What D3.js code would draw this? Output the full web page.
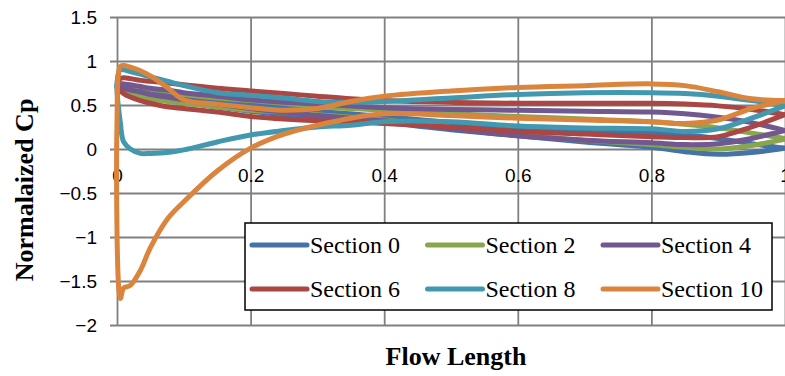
<!DOCTYPE html>
<html>
<head>
<meta charset="utf-8">
<script src="https://cdn.jsdelivr.net/npm/d3@7"></script>
<style>
  body { margin: 0; background: #fff; }
  svg { display: block; }
  .grid line { stroke: #808080; stroke-width: 1.8; }
  .tick text { font-family: "Liberation Sans", Arial, sans-serif; font-size: 19px; fill: #000; }
</style>
</head>
<body>
<svg id="chart" width="785" height="376"></svg>
<script>
// chordwise positions shared by every branch (0 = leading edge, 1 = trailing edge)
var flowLength = [0, 0.005, 0.01, 0.02, 0.035, 0.05, 0.075, 0.1, 0.15, 0.2, 0.25,
                  0.3, 0.35, 0.4, 0.5, 0.6, 0.7, 0.8, 0.85, 0.9, 0.95, 1];

var sectionNames = ["Section 0", "Section 2", "Section 4", "Section 6", "Section 8", "Section 10"];
var sectionColors = ["#4572a7", "#89a54e", "#71588f", "#aa4643", "#4198af", "#db843d"];

// each section is a closed loop: one branch out along the top, one back along the bottom
var upper0 = [0.70, 0.71, 0.71, 0.70, 0.69, 0.67, 0.64, 0.61, 0.56, 0.51, 0.47, 0.43, 0.40, 0.37, 0.30, 0.23, 0.20, 0.18, 0.16, 0.12, 0.06, 0.01];
var lower0 = [0.70, 0.67, 0.66, 0.64, 0.62, 0.60, 0.56, 0.53, 0.48, 0.43, 0.39, 0.36, 0.33, 0.30, 0.22, 0.15, 0.08, 0.02, -0.03, -0.06, -0.04, 0.01];

var upper2 = [0.70, 0.72, 0.72, 0.71, 0.70, 0.68, 0.66, 0.62, 0.58, 0.55, 0.52, 0.48, 0.46, 0.44, 0.40, 0.37, 0.34, 0.31, 0.28, 0.24, 0.18, 0.12];
var lower2 = [0.70, 0.67, 0.65, 0.62, 0.59, 0.57, 0.54, 0.52, 0.48, 0.44, 0.42, 0.39, 0.36, 0.33, 0.24, 0.16, 0.10, 0.05, 0.02, 0.00, 0.04, 0.11];

var upper4 = [0.72, 0.74, 0.74, 0.73, 0.71, 0.69, 0.67, 0.64, 0.60, 0.56, 0.53, 0.51, 0.49, 0.47, 0.45, 0.44, 0.43, 0.42, 0.40, 0.36, 0.30, 0.21];
var lower4 = [0.72, 0.70, 0.69, 0.67, 0.65, 0.62, 0.59, 0.56, 0.51, 0.46, 0.42, 0.38, 0.35, 0.32, 0.23, 0.15, 0.10, 0.07, 0.05, 0.06, 0.12, 0.21];

var upper6 = [0.72, 0.80, 0.81, 0.80, 0.78, 0.77, 0.75, 0.73, 0.69, 0.66, 0.63, 0.60, 0.57, 0.55, 0.53, 0.52, 0.52, 0.52, 0.51, 0.49, 0.45, 0.39];
var lower6 = [0.72, 0.66, 0.63, 0.59, 0.55, 0.52, 0.48, 0.46, 0.42, 0.37, 0.34, 0.32, 0.31, 0.29, 0.25, 0.20, 0.17, 0.14, 0.13, 0.14, 0.25, 0.39];

var upper8 = [0.75, 0.90, 0.90, 0.88, 0.85, 0.82, 0.77, 0.72, 0.64, 0.61, 0.58, 0.54, 0.53, 0.54, 0.58, 0.62, 0.64, 0.64, 0.63, 0.60, 0.55, 0.49];
var lower8 = [0.75, 0.30, 0.08, 0.00, -0.05, -0.05, -0.04, -0.01, 0.08, 0.16, 0.21, 0.25, 0.27, 0.31, 0.31, 0.26, 0.24, 0.23, 0.20, 0.23, 0.35, 0.49];

var upper10 = [0.30, 0.94, 0.95, 0.93, 0.89, 0.83, 0.70, 0.56, 0.51, 0.47, 0.44, 0.46, 0.54, 0.60, 0.66, 0.70, 0.72, 0.74, 0.72, 0.65, 0.57, 0.55];
var lower10 = [0.30, -1.70, -1.58, -1.55, -1.38, -1.12, -0.80, -0.60, -0.25, 0.01, 0.17, 0.27, 0.35, 0.40, 0.38, 0.35, 0.33, 0.31, 0.29, 0.33, 0.46, 0.55];

var upperBranches = [upper0, upper2, upper4, upper6, upper8, upper10];
var lowerBranches = [lower0, lower2, lower4, lower6, lower8, lower10];

var yTicks = [-2, -1.5, -1, -0.5, 0, 0.5, 1, 1.5];
var xTicks = [0, 0.2, 0.4, 0.6, 0.8, 1];

var svg = d3.select("#chart");
var plotLeft = 117, plotRight = 785, plotTop = 17, plotBottom = 325;

var x = d3.scaleLinear().domain([0, 1]).range([plotLeft, plotRight]);
var y = d3.scaleLinear().domain([-2, 1.5]).range([plotBottom, plotTop]);

// vertical grid lines (the one at 0 doubles as the value axis line)
svg.append("g")
    .attr("class", "grid")
    .attr("transform", "translate(0," + plotBottom + ")")
    .call(d3.axisBottom(x).tickValues(xTicks).tickSize(-(plotBottom - plotTop)).tickFormat(""))
    .call(function(g) { g.select(".domain").remove(); });

// horizontal grid lines with the value labels
svg.append("g")
    .attr("class", "grid")
    .attr("transform", "translate(" + plotLeft + ",0)")
    .call(d3.axisLeft(y).tickValues(yTicks).tickSize(-(plotRight - plotLeft)).tickPadding(20)
      .tickFormat(function(d) { return d3.format("")(d); }))
    .call(function(g) {
      g.select(".domain").remove();
      g.selectAll(".tick line").attr("x1", -7);
    });

// category labels sit just under the zero line
svg.append("g")
    .attr("transform", "translate(0," + y(0) + ")")
    .call(d3.axisBottom(x).tickValues(xTicks).tickSize(0).tickPadding(20)
      .tickFormat(function(d) { return d3.format("")(d); }))
    .call(function(g) { g.select(".domain").remove(); });

var line = d3.line()
    .x(function(d) { return x(d[0]); })
    .y(function(d) { return y(d[1]); })
    .curve(d3.curveCatmullRom.alpha(0.5));

sectionNames.forEach(function(name, i) {
  var up = upperBranches[i], lo = lowerBranches[i];
  var pts = [];
  for (var k = flowLength.length - 1; k >= 0; k--) pts.push([flowLength[k], up[k]]);
  for (var k = 1; k < flowLength.length; k++) pts.push([flowLength[k], lo[k]]);
  svg.append("path")
      .datum(pts)
      .attr("d", line)
      .attr("fill", "none")
      .attr("stroke", sectionColors[i])
      .attr("stroke-width", 5)
      .attr("stroke-linejoin", "round")
      .attr("stroke-linecap", "round");
});

// legend box
var legend = svg.append("g");
legend.append("rect")
    .attr("x", 245).attr("y", 223)
    .attr("width", 527).attr("height", 87)
    .attr("fill", "#fff").attr("stroke", "#000").attr("stroke-width", 1.5);

sectionNames.forEach(function(name, i) {
  var cx = 252 + (i % 3) * 175.5, cy = 245 + Math.floor(i / 3) * 44;
  legend.append("line")
      .attr("x1", cx).attr("x2", cx + 55)
      .attr("y1", cy).attr("y2", cy)
      .attr("stroke", sectionColors[i]).attr("stroke-width", 5)
      .attr("stroke-linecap", "round");
  legend.append("text")
      .attr("x", cx + 58).attr("y", cy + 8)
      .style("font-family", "'Liberation Serif', 'Times New Roman', serif")
      .style("font-size", "24px")
      .text(name);
});

// axis titles
svg.append("text")
    .attr("x", 456).attr("y", 365)
    .attr("text-anchor", "middle")
    .style("font-family", "'Liberation Serif', 'Times New Roman', serif")
    .style("font-size", "26px").style("font-weight", "bold")
    .text("Flow Length");

svg.append("text")
    .attr("transform", "translate(33,190) rotate(-90)")
    .attr("text-anchor", "middle")
    .style("font-family", "'Liberation Serif', 'Times New Roman', serif")
    .style("font-size", "26px").style("font-weight", "bold")
    .text("Normalaized Cp");
</script>
</body>
</html>
